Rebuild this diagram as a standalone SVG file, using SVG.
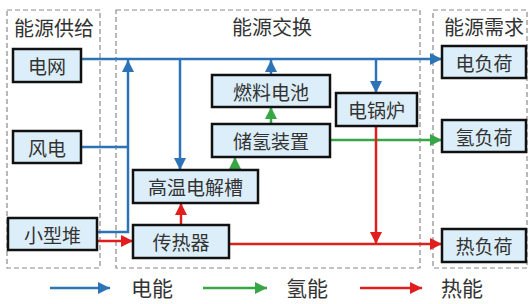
<svg xmlns="http://www.w3.org/2000/svg" width="529" height="304" viewBox="0 0 529 304">
<style>
text{font-family:"Noto Sans CJK SC","Noto Sans",sans-serif;fill:#333;text-anchor:middle;dominant-baseline:central}
.grp{fill:none;stroke:#8a8a8a;stroke-width:1.2;stroke-dasharray:5 3}
.node rect{fill:#dbeef9;stroke:#111;stroke-width:2.5}
.node text{font-size:19px}
.title{font-size:20px}
.leg{font-size:21px}
.e{fill:none;stroke:#2c74b5;stroke-width:2.5}
.h{fill:none;stroke:#37a646;stroke-width:2.5}
.t{fill:none;stroke:#e01e1e;stroke-width:2.5}
</style>
<defs>
<marker id="ab" markerUnits="userSpaceOnUse" markerWidth="13" markerHeight="12" refX="12" refY="6" orient="auto"><path d="M0,0L12,6L0,12z" fill="#2c74b5"/></marker>
<marker id="ag" markerUnits="userSpaceOnUse" markerWidth="13" markerHeight="12" refX="12" refY="6" orient="auto"><path d="M0,0L12,6L0,12z" fill="#37a646"/></marker>
<marker id="ar" markerUnits="userSpaceOnUse" markerWidth="13" markerHeight="12" refX="12" refY="6" orient="auto"><path d="M0,0L12,6L0,12z" fill="#e01e1e"/></marker>
</defs>
<rect width="529" height="304" fill="#fff"/>
<g id="groups">
<rect class="grp" x="7" y="10" width="93" height="258"/>
<rect class="grp" x="116" y="10" width="304" height="258"/>
<rect class="grp" x="433" y="10" width="94" height="258"/>
<text class="title" x="54" y="27">能源供给</text>
<text class="title" x="272" y="26">能源交换</text>
<text class="title" x="484" y="26">能源需求</text>
</g>
<g id="connectors">
<path class="e" d="M81,59H442" marker-end="url(#ab)"/>
<path class="e" d="M97,232H128V60" marker-end="url(#ab)"/>
<path class="e" d="M81,147H128"/>
<path class="e" d="M180,59V170" marker-end="url(#ab)"/>
<path class="e" d="M376,59V93" marker-end="url(#ab)"/>
<path class="e" d="M271,75V60" marker-end="url(#ab)"/>
<path class="h" d="M235,170V157" marker-end="url(#ag)"/>
<path class="h" d="M271,123V107" marker-end="url(#ag)"/>
<path class="h" d="M330,140H442" marker-end="url(#ag)"/>
<path class="t" d="M97,241H133" marker-end="url(#ar)"/>
<path class="t" d="M181,225V203" marker-end="url(#ar)"/>
<path class="t" d="M229,244H442" marker-end="url(#ar)"/>
<path class="t" d="M376,126V244" marker-end="url(#ar)"/>
</g>
<g id="n-grid" class="node"><rect x="13" y="49" width="68" height="33"/><text x="47" y="65.5">电网</text></g>
<g id="n-wind" class="node"><rect x="13" y="131" width="68" height="32"/><text x="47" y="147">风电</text></g>
<g id="n-smr" class="node"><rect x="8" y="218" width="89" height="32"/><text x="52.5" y="234">小型堆</text></g>
<g id="n-fc" class="node"><rect x="212" y="75" width="118" height="32"/><text x="271" y="91">燃料电池</text></g>
<g id="n-h2s" class="node"><rect x="212" y="124" width="118" height="33"/><text x="271" y="140.5">储氢装置</text></g>
<g id="n-boiler" class="node"><rect x="336" y="93" width="81" height="33"/><text x="376.5" y="109.5">电锅炉</text></g>
<g id="n-soec" class="node"><rect x="133" y="170" width="125" height="33"/><text x="195.5" y="186.5">高温电解槽</text></g>
<g id="n-hx" class="node"><rect x="133" y="225" width="96" height="33"/><text x="181" y="241.5">传热器</text></g>
<g id="n-eload" class="node"><rect x="442" y="46" width="84" height="32"/><text x="484" y="62">电负荷</text></g>
<g id="n-hload" class="node"><rect x="442" y="120" width="84" height="32"/><text x="484" y="136">氢负荷</text></g>
<g id="n-tload" class="node"><rect x="442" y="229" width="84" height="33"/><text x="484" y="245.5">热负荷</text></g>
<g id="legend">
<path class="e" d="M50,288H110" marker-end="url(#ab)"/>
<text class="leg" x="152" y="287">电能</text>
<path class="h" d="M203,288H267" marker-end="url(#ag)"/>
<text class="leg" x="307" y="287">氢能</text>
<path class="t" d="M360,288H422" marker-end="url(#ar)"/>
<text class="leg" x="462" y="287">热能</text>
</g>
</svg>
